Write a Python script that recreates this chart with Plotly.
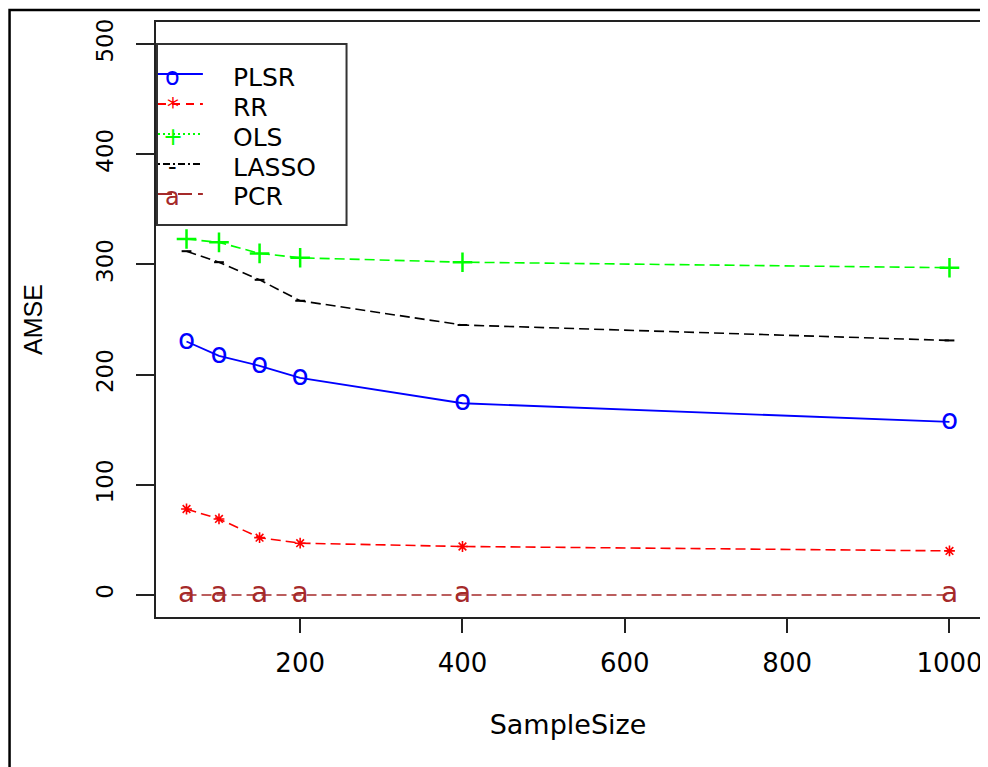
import plotly.graph_objects as go

# ---------------- data ----------------
sample_size = [60, 100, 150, 200, 400, 1000]
plsr = [230, 217, 208, 197, 174, 157]
rr = [78, 69, 52, 47, 44, 40]
ols = [323, 320, 310, 306, 302, 297]
lasso = [312, 302, 286, 267, 245, 231]
pcr = [0, 0, 0, 0, 0, 0]

series_names = ["PLSR", "RR", "OLS", "LASSO", "PCR"]
legend_chars = ["o", "*", "+", "-", "a"]
y_ticks = [0, 100, 200, 300, 400, 500]
x_ticks = [200, 400, 600, 800, 1000]

# ---------------- styling ----------------
BLUE, RED, GREEN, BLACK, BROWN = "#0000FF", "#FF0000", "#00FF00", "#000000", "#A52A2A"
colors = [BLUE, RED, GREEN, BLACK, BROWN]
legend_dash = ["solid", "8px,6px", "2px,3px", "2px,3px,7px,3px", "14px,6px"]
plot_dash = "10px,5px"
HFONT = "DejaVu Sans"
VFONT = "Liberation Sans"

# the page body has an 8px margin; geometry below is given in screen pixels
OFF = 8
W, H = 988 - OFF, 767 - OFF
SL, SR, ST, SB = 156, 982, 22, 617          # plot box in screen pixels
L, R, T, B = SL - OFF, SR - OFF, ST - OFF, SB - OFF


def px(x):
    return (x - SL) / (SR - SL)


def py(y):
    return (SB - y) / (SB - ST)


# axis ranges as R computes them (4% expansion)
xmin, xmax = min(sample_size), max(sample_size)
xpad = (xmax - xmin) * 0.04
ylo, yhi = 0, 500
ypad = (yhi - ylo) * 0.04

fig = go.Figure()

fig.add_trace(go.Scatter(
    x=sample_size, y=plsr, name=series_names[0], mode="lines+text",
    text=["o"] * len(sample_size), textposition="middle center",
    textfont=dict(family=HFONT, size=28, color=BLUE),
    line=dict(color=BLUE, width=1.8), showlegend=False))

fig.add_trace(go.Scatter(
    x=sample_size, y=rr, name=series_names[1], mode="lines+markers",
    marker=dict(symbol="asterisk-open", size=9, line=dict(color=RED, width=1.6)),
    line=dict(color=RED, width=1.6, dash=plot_dash), showlegend=False))

fig.add_trace(go.Scatter(
    x=sample_size, y=ols, name=series_names[2], mode="lines+markers",
    marker=dict(symbol="cross-thin-open", size=14, line=dict(color=GREEN, width=2.5)),
    line=dict(color=GREEN, width=1.6, dash=plot_dash), showlegend=False))

fig.add_trace(go.Scatter(
    x=sample_size, y=lasso, name=series_names[3], mode="lines+markers",
    marker=dict(symbol="line-ew-open", size=7, line=dict(color=BLACK, width=2)),
    line=dict(color=BLACK, width=1.6, dash=plot_dash), showlegend=False))

fig.add_trace(go.Scatter(
    x=sample_size, y=pcr, name=series_names[4], mode="lines+text",
    text=["a"] * len(sample_size), textposition="middle center",
    textfont=dict(family=HFONT, size=28, color=BROWN),
    line=dict(color=BROWN, width=1.6, dash=plot_dash), showlegend=False))

shapes = []
annotations = []

# outer frame of the figure
shapes.append(dict(type="rect", xref="paper", yref="paper",
                   x0=px(OFF + 1.2), x1=px(1010), y0=py(10), y1=py(800),
                   line=dict(color="black", width=2.5), fillcolor="rgba(0,0,0,0)"))

# manual R-style legend
shapes.append(dict(type="rect", xref="paper", yref="paper",
                   x0=px(157), x1=px(347), y0=py(44), y1=py(225),
                   line=dict(color="#333333", width=2), fillcolor="white", layer="above"))
for i, name in enumerate(series_names):
    yc = 77 + 30 * i
    shapes.append(dict(type="line", xref="paper", yref="paper",
                       x0=px(158), x1=px(203), y0=py(yc - 3), y1=py(yc - 3),
                       line=dict(color=colors[i], width=1.8, dash=legend_dash[i]),
                       layer="above"))
    annotations.append(dict(xref="paper", yref="paper", x=px(173), y=py(yc),
                            text=legend_chars[i], showarrow=False,
                            xanchor="center", yanchor="middle",
                            font=dict(family=HFONT, size=24, color=colors[i])))
    annotations.append(dict(xref="paper", yref="paper", x=px(231), y=py(yc),
                            text=name, showarrow=False,
                            xanchor="left", yanchor="middle",
                            font=dict(family=HFONT, size=25, color="black")))

fig.update_layout(
    width=W, height=H,
    margin=dict(l=L, r=W - R, t=T, b=H - B, pad=0),
    paper_bgcolor="white", plot_bgcolor="white",
    shapes=shapes, annotations=annotations,
    xaxis=dict(range=[xmin - xpad, xmax + xpad], tickvals=x_ticks,
               ticktext=[str(v) for v in x_ticks],
               ticks="outside", ticklen=14, tickwidth=1.5, tickcolor="#222",
               showline=True, mirror=True, linecolor="#222", linewidth=2,
               showgrid=False, zeroline=False, ticklabelstandoff=8,
               tickfont=dict(family=HFONT, size=26, color="black"),
               title=dict(text="SampleSize", standoff=38,
                          font=dict(family=HFONT, size=27, color="black"))),
    yaxis=dict(range=[ylo - ypad, yhi + ypad], tickvals=y_ticks,
               ticktext=[str(v) for v in y_ticks], tickangle=-90,
               ticks="outside", ticklen=18, tickwidth=1.5, tickcolor="#222",
               showline=True, mirror=True, linecolor="#222", linewidth=2,
               showgrid=False, zeroline=False, ticklabelstandoff=14,
               tickfont=dict(family=HFONT, size=23, color="black"),
               title=dict(text="AMSE", standoff=42,
                          font=dict(family=VFONT, size=25, color="black"))),
)

fig.write_html("out.html")
